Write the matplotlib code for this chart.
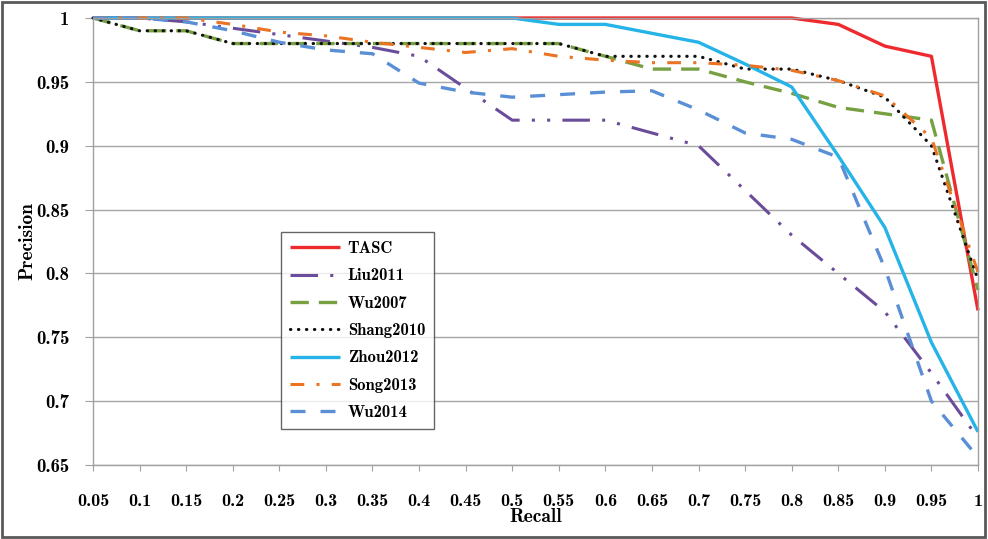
import matplotlib
matplotlib.use("Agg")
import matplotlib.pyplot as plt
from matplotlib.patches import Rectangle

recall = [0.05, 0.1, 0.15, 0.2, 0.25, 0.3, 0.35, 0.4, 0.45, 0.5,
          0.55, 0.6, 0.65, 0.7, 0.75, 0.8, 0.85, 0.9, 0.95, 1.0]
tick_labels = ["0.05", "0.1", "0.15", "0.2", "0.25", "0.3", "0.35", "0.4", "0.45", "0.5",
               "0.55", "0.6", "0.65", "0.7", "0.75", "0.8", "0.85", "0.9", "0.95", "1"]
y_ticks = [0.65, 0.7, 0.75, 0.8, 0.85, 0.9, 0.95, 1.0]
y_labels = ["0.65", "0.7", "0.75", "0.8", "0.85", "0.9", "0.95", "1"]

tasc = [1, 1, 1, 1, 1, 1, 1, 1, 1, 1,
        1, 1, 1, 1, 1, 1, 0.995, 0.978, 0.970, 0.771]
liu2011 = [1, 1, 0.997, 0.992, 0.987, 0.982, 0.977, 0.970, 0.945, 0.920,
           0.920, 0.920, 0.910, 0.900, 0.865, 0.830, 0.800, 0.770, 0.722, 0.671]
wu2007 = [1, 0.99, 0.99, 0.98, 0.98, 0.98, 0.98, 0.98, 0.98, 0.98,
          0.98, 0.97, 0.96, 0.96, 0.95, 0.941, 0.930, 0.925, 0.920, 0.787]
shang2010 = [1, 0.99, 0.99, 0.98, 0.98, 0.98, 0.98, 0.98, 0.98, 0.98,
             0.98, 0.97, 0.97, 0.97, 0.96, 0.96, 0.951, 0.938, 0.900, 0.795]
zhou2012 = [1, 1, 1, 1, 1, 1, 1, 1, 1, 1,
            0.995, 0.995, 0.988, 0.981, 0.964, 0.946, 0.892, 0.836, 0.746, 0.676]
song2013 = [1, 1, 1, 0.995, 0.989, 0.986, 0.981, 0.977, 0.973, 0.976,
            0.970, 0.967, 0.965, 0.965, 0.963, 0.959, 0.951, 0.939, 0.906, 0.801]
wu2014 = [1, 1, 0.997, 0.990, 0.981, 0.975, 0.972, 0.949, 0.942, 0.938,
          0.940, 0.942, 0.943, 0.928, 0.910, 0.905, 0.891, 0.804, 0.700, 0.656]

FONT = "cmb10"
plt.rcParams["font.family"] = [FONT, "DejaVu Serif"]

fig = plt.figure(figsize=(9.88, 5.39), dpi=100)
ax = fig.add_axes([93 / 988, 1 - 465 / 539, (978 - 93) / 988, (465 - 18) / 539])

series = [
    ("TASC", tasc, dict(color="#EE2A2F", lw=2.4, ls="-")),
    ("Liu2011", liu2011, dict(color="#6B4C9A", lw=2.2, ls=(0, (9, 4, 1, 4, 1, 4)))),
    ("Wu2007", wu2007, dict(color="#77A043", lw=2.4, ls=(0, (5.5, 3)))),
    ("Shang2010", shang2010, dict(color="#111111", lw=2.3, ls=(0, (0.1, 2.4)),
                                  dash_capstyle="round")),
    ("Zhou2012", zhou2012, dict(color="#25B3E8", lw=2.4, ls="-")),
    ("Song2013", song2013, dict(color="#EB7324", lw=2.2, ls=(0, (4.5, 4, 1, 4)))),
    ("Wu2014", wu2014, dict(color="#5A8FD5", lw=2.4, ls=(0, (4.5, 4.5)))),
]

for name, vals, style in series:
    ax.plot(recall, vals, label=name, clip_on=False, solid_capstyle="butt", **style)

ax.set_xlim(0.05, 1.0)
ax.set_ylim(0.65, 1.0)
ax.set_xticks(recall)
ax.set_xticklabels(tick_labels, fontsize=13)
ax.set_yticks(y_ticks)
ax.set_yticklabels(y_labels, fontsize=13.5)
ax.grid(axis="y", color="#A6A6A6", lw=1.0)
ax.set_axisbelow(True)
for s in ax.spines.values():
    s.set_color("#A0A0A0")
    s.set_linewidth(1.0)
ax.tick_params(axis="x", length=4, color="#A0A0A0", pad=17)
ax.tick_params(axis="y", length=6, color="#A0A0A0", pad=11)

ax.set_xlabel("Recall", fontsize=14, labelpad=-1)
ax.set_ylabel("Precision", fontsize=14, labelpad=0)

leg = ax.legend(loc="upper left", bbox_to_anchor=((281 - 93) / 885, (465 - 232) / 447),
                fontsize=12, frameon=True, fancybox=False, handlelength=3.0,
                labelspacing=0.74, borderpad=0.55, handletextpad=0.45, borderaxespad=0)
leg.get_frame().set_edgecolor("#404040")
leg.get_frame().set_linewidth(1.0)

fig.patches.append(Rectangle((0.002, 0.003), 0.995, 0.993, transform=fig.transFigure,
                             fill=False, edgecolor="#595959", lw=2.0))

fig.savefig("out.png", dpi=100)
